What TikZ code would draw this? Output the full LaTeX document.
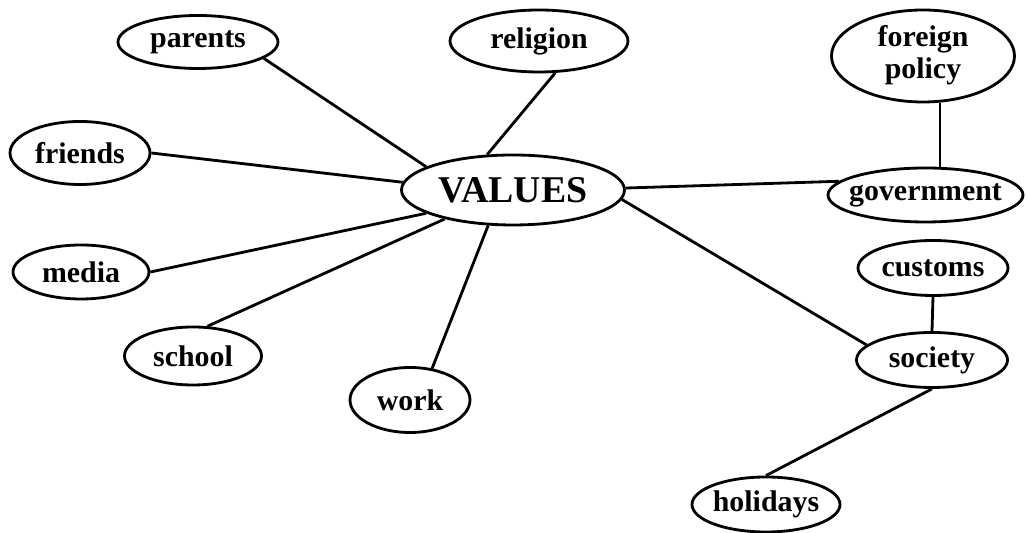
\documentclass[tikz,border=0pt]{standalone}
\usepackage{fontspec}
\setmainfont{Liberation Serif}
\usetikzlibrary{shapes.geometric,backgrounds}
% label of zero width, so the ellipse takes only its minimum size
\newcommand{\zwlabel}[1]{\makebox[0pt]{#1}}

\begin{document}
\begin{tikzpicture}[
  topic/.style={ellipse,draw,fill=white,line width=1.6pt,inner sep=0pt,
    font=\fontsize{17}{18}\selectfont\bfseries},
  core/.style={topic,font=\fontsize{21.5}{24}\selectfont\bfseries},
  link/.style={line width=1.6pt},
  x=1cm,y=1cm]

\useasboundingbox (0,0) rectangle (20.54,10.66);

% centre
\node[core,minimum width=4.46cm,minimum height=1.40cm] (values) at (10.26,6.86) {\zwlabel{VALUES}};

% left and lower topics
\node[topic,minimum width=3.20cm,minimum height=1.06cm] (parents) at (3.96,9.82) {\zwlabel{parents}};
\node[topic,minimum width=3.56cm,minimum height=1.24cm] (religion) at (10.78,9.84) {\zwlabel{religion}};
\node[topic,minimum width=2.80cm,minimum height=1.26cm] (friends) at (1.60,7.60) {\zwlabel{friends}};
\node[topic,minimum width=2.72cm,minimum height=1.08cm] (media) at (1.62,5.22) {\zwlabel{media}};
\node[topic,minimum width=2.74cm,minimum height=1.16cm] (school) at (3.86,3.54) {\zwlabel{school}};
\node[topic,minimum width=2.40cm,minimum height=1.30cm] (work) at (8.20,2.66) {\zwlabel{work}};

% right-hand branches
\node[topic,minimum width=3.66cm,minimum height=1.84cm] (foreign) at (18.46,9.54)
  {\zwlabel{\begin{tabular}{@{}c@{}}foreign\\policy\end{tabular}}};
\node[topic,minimum width=3.90cm,minimum height=1.08cm] (government) at (18.51,6.76) {\zwlabel{government}};
\node[topic,minimum width=3.00cm,minimum height=1.10cm] (customs) at (18.66,5.30) {\zwlabel{customs}};
\node[topic,minimum width=3.02cm,minimum height=1.10cm] (society) at (18.64,3.46) {\zwlabel{society}};
\node[topic,minimum width=2.96cm,minimum height=1.10cm] (holidays) at (15.32,0.57) {\zwlabel{holidays}};

% spokes
\begin{scope}[on background layer]
\draw[link] (parents.346) -- (values.165);
\draw[link] (religion.297) -- (values.126);
\draw[link] (friends.0) -- (values.176);
\draw[link] (media.0) -- (values.195);
\draw[link] (school.64) -- (values.203);
\draw[link] (work.55) -- (values.235);
\draw[link] (values.1) -- (government.171);
\draw[link] (values.355) -- (society.167);
\draw[link] (foreign.290) -- (foreign.290 |- government.center);
\draw[link] (customs.south) -- (society.north);
\draw[link] (society.south) -- (holidays.north);
\end{scope}
\end{tikzpicture}
\end{document}
